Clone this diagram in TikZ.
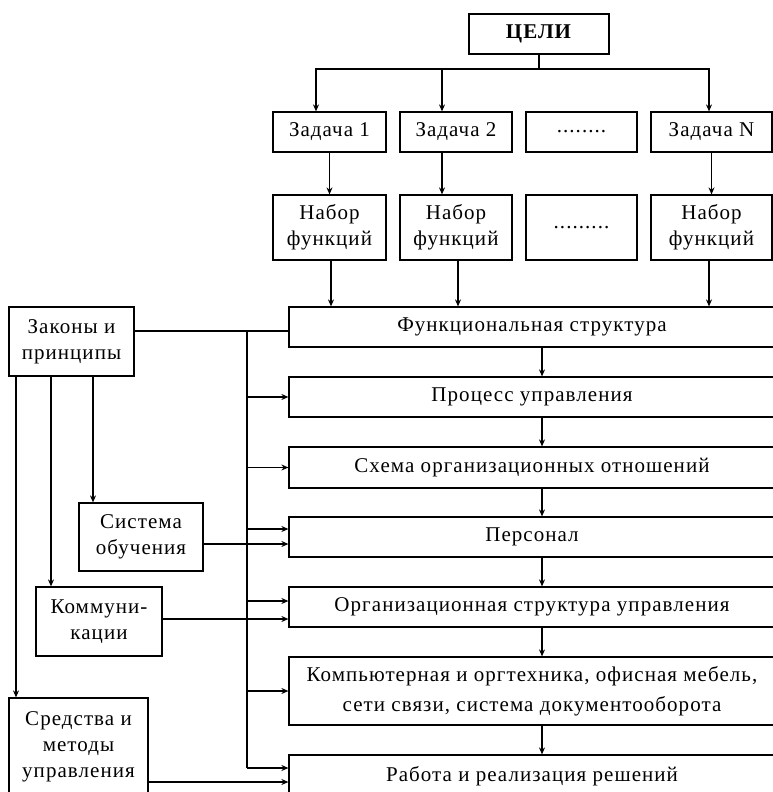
\documentclass[tikz,border=0pt]{standalone}
\usepackage{fontspec}
\setmainfont{Liberation Serif}[LetterSpace=5]
\usetikzlibrary{arrows.meta,positioning}

\begin{document}
\begin{tikzpicture}[
  x=1pt, y=-1pt,
  font=\fontsize{21}{26}\selectfont,
  box/.style={draw,line width=1.2pt,align=center,inner sep=0pt},
  task/.style={box,minimum height=40pt},
  kit/.style={box,minimum height=65pt},
  main/.style={box,minimum width=486pt,minimum height=40pt},
  side/.style={box,minimum height=69pt},
  arrow/.style={-{Stealth[length=7pt,width=6pt]},line width=1.2pt},
  link/.style={line width=1.2pt}
]
\useasboundingbox[fill=white] (0,0) rectangle (773,792);
% goals, tasks and sets of functions
\node[box,minimum width=140pt,minimum height=40pt] (goals) at (539,34) {\textbf{ЦЕЛИ}};
\node[task,minimum width=113pt] (t1) at (329.5,132) {Задача 1};
\node[task,minimum width=112pt] (t2) at (456,132) {Задача 2};
\node[task,minimum width=111pt] (t3) at (581.5,132) {........};
\node[task,minimum width=121pt] (t4) at (711.5,132) {Задача N};
\node[kit,minimum width=113pt] (set1) at (329.5,227.5) {Набор\\функций};
\node[kit,minimum width=112pt] (set2) at (456,227.5) {Набор\\функций};
\node[kit,minimum width=111pt] (set3) at (581.5,227.5) {.........};
\node[kit,minimum width=121pt] (set4) at (711.5,227.5) {Набор\\функций};
% main chain
\node[main] (func) at (532,327) {Функциональная структура};
\node[main] (proc) at (532,397) {Процесс управления};
\node[main,minimum height=41pt] (scheme) at (532,467.5) {Схема организационных отношений};
\node[main] (staff) at (532,537) {Персонал};
\node[main] (org) at (532,607) {Организационная структура управления};
\node[main,minimum height=68pt,font=\fontsize{21}{30}\selectfont] (tech) at (532,691)
  {Компьютерная и оргтехника, офисная мебель,\\сети связи, система документооборота};
\node[main,minimum height=42pt] (work) at (532,776) {Работа и реализация решений};
% left column
\node[side,minimum width=125pt] (laws) at (71.5,341.5) {Законы и\\принципы};
\node[side,minimum width=124pt,minimum height=68pt] (train) at (141,537) {Система\\обучения};
\node[side,minimum width=126pt] (comm) at (99,621.5) {Коммуни-\\кации};
\node[side,minimum width=139pt,minimum height=98pt] (means) at (78.5,747) {Средства и\\методы\\управления};
\coordinate (bar) at (539,69);
\coordinate (bus) at (247,331);

\draw[link] (goals) -- (bar);
\draw[arrow] (bar) -| ([xshift=-13.5pt]t1.north);
\draw[arrow] (bar) -| ([xshift=-14pt]t2.north);
\draw[arrow] (bar) -| ([xshift=-2.5pt]t4.north);
\draw[arrow] (t1) -- (set1);
\draw[arrow] ([xshift=-14pt]t2.south) -- ([xshift=-14pt]set2.north);
\draw[arrow] (t4) -- (set4);
\draw[arrow] ([xshift=1.5pt]set1.south) -- ([xshift=1.5pt]set1.south |- func.north);
\draw[arrow] ([xshift=2pt]set2.south) -- ([xshift=2pt]set2.south |- func.north);
\draw[arrow] ([xshift=-2.5pt]set4.south) -- ([xshift=-2.5pt]set4.south |- func.north);
\foreach \a/\b in {func/proc,proc/scheme,scheme/staff,staff/org,org/tech,tech/work}
  \draw[arrow] ([xshift=10pt]\a.south) -- ([xshift=10pt]\b.north);

\draw[link] (laws.east |- bus) -- (bus -| func.west);
\draw[link] (bus) -- ([yshift=8pt]work.west -| bus);
\draw[arrow] (proc.west -| bus) -- (proc.west);
\draw[arrow] (scheme.west -| bus) -- (scheme.west);
\draw[arrow] ([yshift=8pt]staff.west -| bus) -- ([yshift=8pt]staff.west);
\draw[arrow] ([yshift=6pt]org.west -| bus) -- ([yshift=6pt]org.west);
\draw[arrow] (tech.west -| bus) -- (tech.west);
\draw[arrow] ([yshift=8pt]work.west -| bus) -- ([yshift=8pt]work.west);

\draw[arrow] ([xshift=-55.5pt]laws.south) -- ([xshift=-55.5pt]laws.south |- means.north);
\draw[arrow] ([xshift=-20.5pt]laws.south) -- ([xshift=-20.5pt]laws.south |- comm.north);
\draw[arrow] ([xshift=21.5pt]laws.south) -- ([xshift=21.5pt]laws.south |- train.north);
\draw[arrow] ([yshift=-7pt]staff.west -| train.east) -- ([yshift=-7pt]staff.west);
\draw[arrow] ([yshift=-12pt]org.west -| comm.east) -- ([yshift=-12pt]org.west);
\draw[arrow] ([yshift=-6pt]work.west -| means.east) -- ([yshift=-6pt]work.west);
\end{tikzpicture}
\end{document}
